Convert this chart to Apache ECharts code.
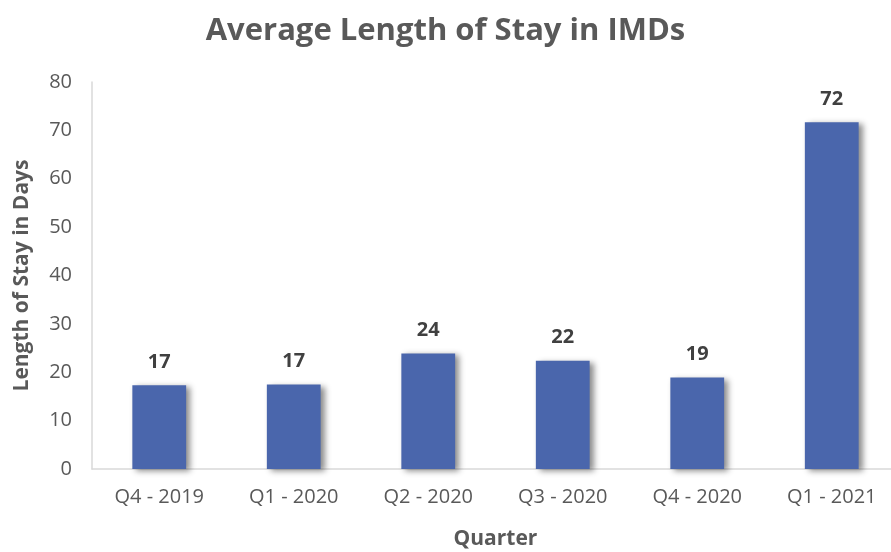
<!DOCTYPE html>
<html>
<head>
<meta charset="utf-8">
<script src="https://cdn.jsdelivr.net/npm/echarts@6/dist/echarts.min.js"></script>
<style>
  html, body { margin: 0; padding: 0; background: #fff; }
  #main { width: 891px; height: 552px; }
</style>
</head>
<body>
<div id="main"></div>
<script>
// 数据
var quarters = ['Q4 - 2019', 'Q1 - 2020', 'Q2 - 2020', 'Q3 - 2020', 'Q4 - 2020', 'Q1 - 2021'];
var stayDays = [17.3, 17.45, 23.9, 22.4, 18.9, 71.7];

var chart = echarts.init(document.getElementById('main'));
var font = '"Open Sans", sans-serif';

var option = {
    animation: false,
    title: {
        text: 'Average Length of Stay in IMDs',
        left: 'center',
        top: 11,
        textStyle: { fontFamily: font, fontSize: 31, fontWeight: 'bold', color: '#595959' }
    },
    grid: { left: 92, right: -8, top: 82, bottom: 83, outerBoundsMode: 'none', containLabel: false },
    xAxis: {
        type: 'category',
        data: quarters,
        name: 'Quarter',
        nameLocation: 'middle',
        nameGap: 60,
        nameTextStyle: { fontFamily: font, fontSize: 21, fontWeight: 'bold', color: '#595959' },
        axisLine: { lineStyle: { color: '#d9d9d9', width: 1.5 } },
        axisTick: { show: false },
        axisLabel: { fontFamily: font, fontSize: 20, color: '#595959', margin: 18 }
    },
    yAxis: {
        type: 'value',
        min: 0,
        max: 80,
        interval: 10,
        name: 'Length of Stay in Days',
        nameLocation: 'middle',
        nameGap: 59,
        nameTextStyle: { fontFamily: font, fontSize: 21, fontWeight: 'bold', color: '#595959' },
        axisLine: { show: true, lineStyle: { color: '#d9d9d9', width: 1.5 } },
        axisTick: { show: false },
        splitLine: { show: false },
        axisLabel: { fontFamily: font, fontSize: 20, color: '#595959', margin: 20 }
    },
    series: [{
        type: 'bar',
        data: stayDays,
        barWidth: '40%',
        itemStyle: {
            color: '#4a66ac',
            shadowColor: 'rgba(0,0,0,0.45)',
            shadowBlur: 6,
            shadowOffsetX: 4,
            shadowOffsetY: 2
        },
        label: {
            show: true,
            position: 'top',
            distance: 13,
            fontFamily: font,
            fontSize: 20,
            fontWeight: 'bold',
            color: '#404040',
            formatter: function (p) { return Math.round(p.value); }
        }
    }]
};

chart.setOption(option);
window.onresize = function () { chart.resize(); };
</script>
</body>
</html>
